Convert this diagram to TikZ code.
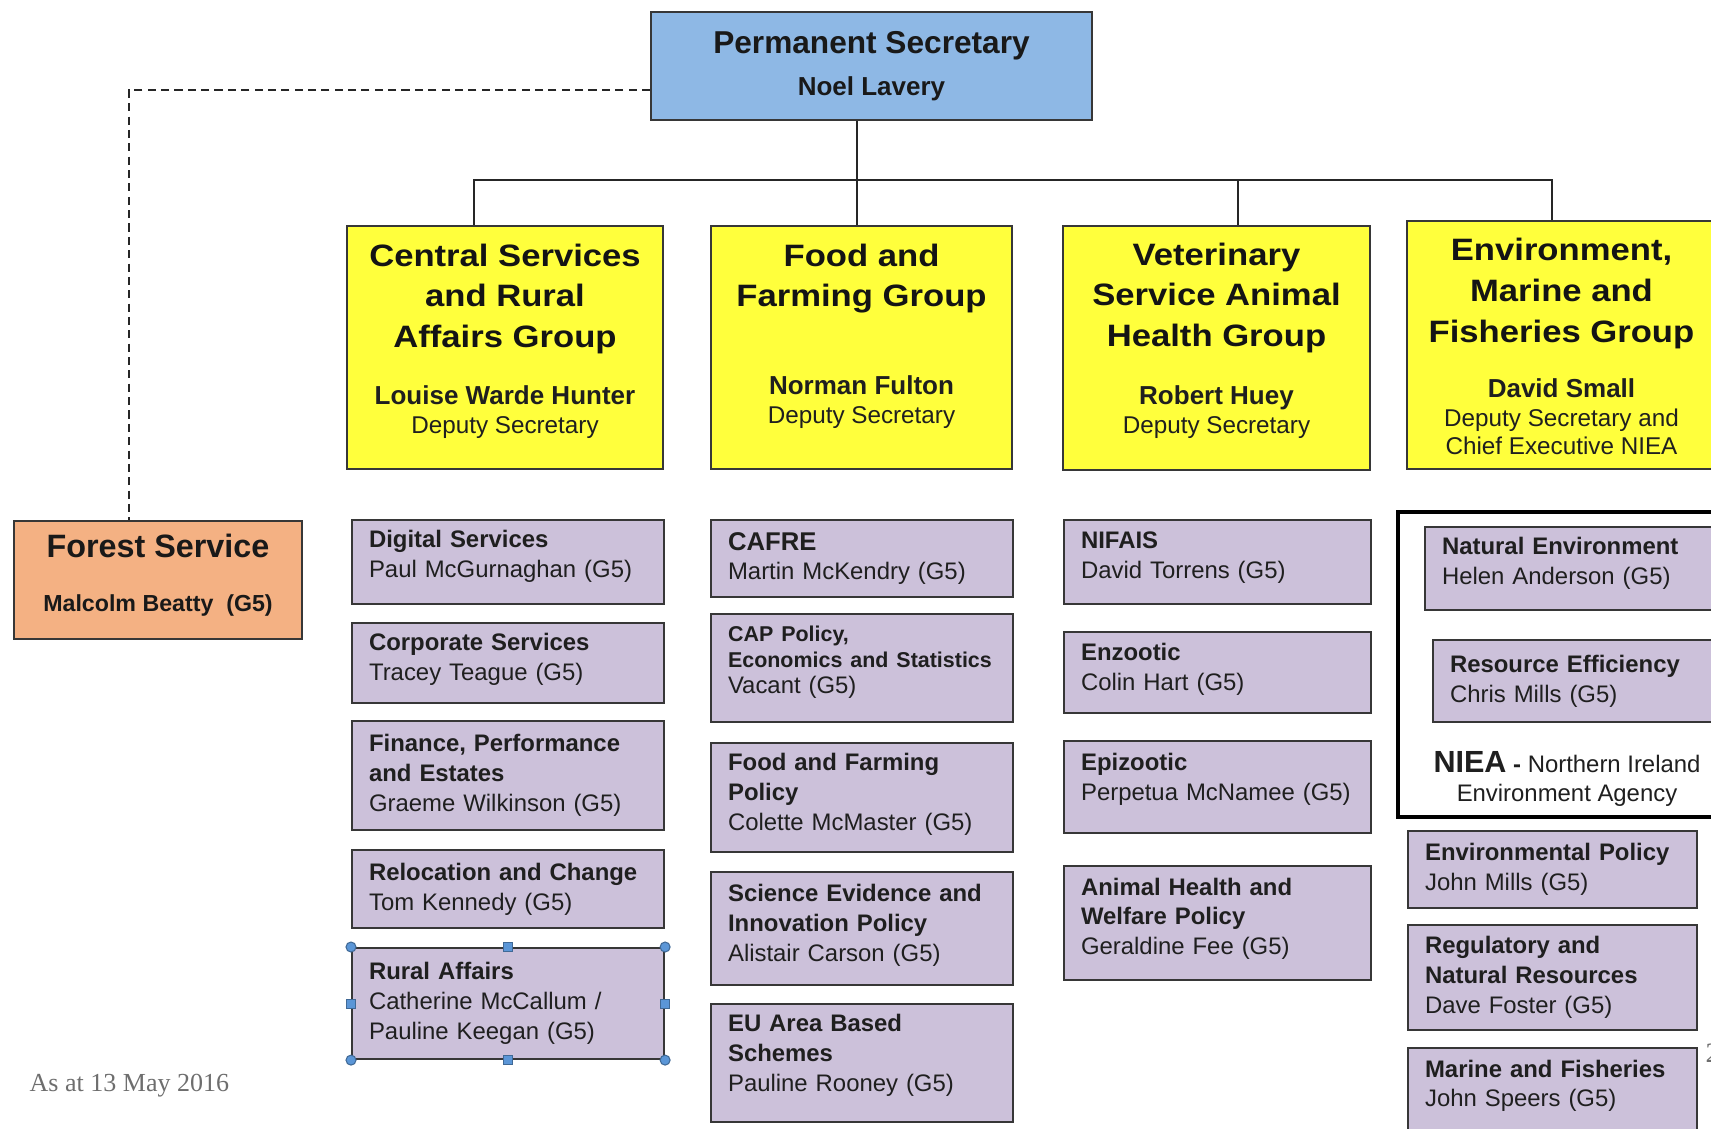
\documentclass[tikz,border=0pt]{standalone}
\usepackage{fontspec}
\setmainfont{Liberation Sans}
\newfontfamily\titlefont{Liberation Sans}[FakeStretch = 1.12]
\newfontfamily\notefont{Liberation Serif}
\usepackage{tikz}
\usetikzlibrary{positioning}
\definecolor{permblue}{RGB}{142, 184, 229}
\definecolor{groupyellow}{RGB}{255, 255, 60}
\definecolor{unitlilac}{RGB}{204, 193, 218}
\definecolor{forestorange}{RGB}{244, 177, 131}
\definecolor{boxline}{RGB}{55, 55, 55}
\definecolor{handleblue}{RGB}{91, 150, 215}
\definecolor{notegray}{RGB}{110, 110, 110}
\tikzset{chief/.style = {draw = boxline, fill = permblue, line width = 0.6pt, align = center, inner sep = 0, minimum width = 4.41cm, minimum height = 1.08cm, text = black!90, font = \fontsize{9.0}{11.9}\selectfont\bfseries}}
\tikzset{agency/.style = {draw = boxline, fill = forestorange, line width = 0.6pt, inner sep = 0, minimum width = 2.88cm, minimum height = 1.18cm}}
\tikzset{agencytext/.style = {align = center, inner sep = 0, text = black!90, font = \fontsize{9.2}{15.5}\selectfont\bfseries}}
\tikzset{groupbox/.style = {draw = boxline, fill = groupyellow, line width = 0.6pt, inner sep = 0, minimum height = 2.43cm}}
\tikzset{grouptitle/.style = {align = center, inner sep = 0, text = black!92, font = \fontsize{8.8}{11.6}\titlefont\bfseries}}
\tikzset{groupname/.style = {align = center, inner sep = 0, text = black!88, font = \fontsize{6.9}{8.3}\selectfont}}
\tikzset{unitbox/.style = {draw = boxline, fill = unitlilac, line width = 0.6pt, anchor = north west, align = left, inner xsep = 1.7mm, inner ysep = 0, text = black!88, font = \fontsize{6.8}{8.5}\selectfont}}
\tikzset{colA/.style = {unitbox, text width = 2.78cm}}
\tikzset{colB/.style = {unitbox, text width = 2.68cm}}
\tikzset{colC/.style = {unitbox, text width = 2.73cm}}
\tikzset{colD/.style = {unitbox, text width = 2.55cm}}
\tikzset{lift/.style = {execute at end node = {\\[#1]\mbox{}}}}
\tikzset{framebox/.style = {draw = black, line width = 1.2pt, anchor = north west, inner sep = 0}}
\tikzset{link/.style = {draw = black!85, line width = 0.6pt}}
\tikzset{handle/.style = {fill = handleblue, draw = handleblue!70!black, line width = 0.3pt}}

\begin{document}
\begin{tikzpicture}
    \fill[white] (0, 0) rectangle (17.11, -11.28);
    \useasboundingbox (0, 0) rectangle (17.11, -11.28);
    \node[chief] (permsec) at (8.715, -0.66) {Permanent Secretary\\{\fontsize{7.4}{11.9}\selectfont Noel Lavery}};
    \node[agency] (forest) at (1.58, -5.80) {};
    \node[agencytext] (forestText) at ([yshift = 0.5mm]forest.center) {Forest Service\\{\fontsize{6.6}{15.5}\selectfont Malcolm Beatty\ \ (G5)}};
    \node[groupbox, minimum width = 3.16cm] (csr) at (5.05, -3.475) {};
    \node[groupbox, minimum width = 3.01cm] (ffg) at (8.615, -3.475) {};
    \node[groupbox, minimum width = 3.07cm, minimum height = 2.44cm] (vet) at (12.165, -3.48) {};
    \node[groupbox, minimum width = 3.09cm, minimum height = 2.48cm] (emf) at (15.615, -3.45) {};
    \node[grouptitle, below = 1.8mm of csr.north] (csrTitle) {Central Services\\and Rural\\Affairs Group};
    \node[grouptitle, below = 1.8mm of ffg.north] (ffgTitle) {Food and\\Farming Group};
    \node[grouptitle, below = 1.7mm of vet.north] (vetTitle) {Veterinary\\Service Animal\\Health Group};
    \node[grouptitle, below = 1.75mm of emf.north] (emfTitle) {Environment,\\Marine and\\Fisheries Group};
    \node[groupname, above = 3.1mm of csr.south] (csrHead) {\textbf{\fontsize{7.4}{8.3}\selectfont Louise Warde Hunter}\\Deputy Secretary};
    \node[groupname, above = 4.1mm of ffg.south] (ffgHead) {\textbf{\fontsize{7.4}{8.3}\selectfont Norman Fulton}\\Deputy Secretary};
    \node[groupname, above = 3.2mm of vet.south] (vetHead) {\textbf{\fontsize{7.4}{8.3}\selectfont Robert Huey}\\Deputy Secretary};
    \node[groupname, above = 1.5mm of emf.south, font = \fontsize{6.9}{8.0}\selectfont] (emfHead) {\textbf{\fontsize{7.4}{8.0}\selectfont David Small}\\Deputy Secretary and\\Chief Executive NIEA};
    \coordinate (bus) at (0, -1.80);
    \draw[link] ([xshift = -0.45mm]ffg.north) -- ([xshift = -0.45mm]ffg.north |- permsec.south);
    \draw[link] ([xshift = -3.1mm]csr.north) |- ([xshift = -0.95mm]emf.north |- bus) -- ([xshift = -0.95mm]emf.north);
    \draw[link] ([xshift = 2.15mm]vet.north) -- ([xshift = 2.15mm]vet.north |- bus);
    \draw[link, line width = 0.5pt, dash pattern = on 2.3pt off 1.5pt] ([yshift = -2.4mm]permsec.west) -| ([xshift = -2.9mm]forest.north);
    \node[colA, lift = -3.95pt, minimum height = 0.84cm] (digital) at (3.51, -5.19) {\textbf{Digital Services}\\Paul McGurnaghan (G5)};
    \node[colA, lift = -5.2pt, minimum height = 0.80cm] (corporate) at (3.51, -6.22) {\textbf{Corporate Services}\\Tracey Teague (G5)};
    \node[colA, minimum height = 1.09cm] (finance) at (3.51, -7.20) {\textbf{Finance, Performance}\\\textbf{and Estates}\\Graeme Wilkinson (G5)};
    \node[colA, minimum height = 0.78cm] (reloc) at (3.51, -8.49) {\textbf{Relocation and Change}\\Tom Kennedy (G5)};
    \node[colA, minimum height = 1.11cm] (rural) at (3.51, -9.47) {\textbf{Rural Affairs}\\Catherine McCallum /\\Pauline Keegan (G5)};
    \node[colB, minimum height = 0.77cm] (cafre) at (7.10, -5.19) {\textbf{\fontsize{7.3}{8.5}\selectfont CAFRE}\\Martin McKendry (G5)};
    \node[colB, lift = -2.85pt, minimum height = 1.08cm, font = \fontsize{6.8}{7.4}\selectfont] (cap) at (7.10, -6.13) {\textbf{\fontsize{6.1}{7.4}\selectfont CAP Policy,}\\\textbf{\fontsize{6.1}{7.4}\selectfont Economics and Statistics}\\Vacant (G5)};
    \node[colB, lift = -5.2pt, minimum height = 1.09cm] (ffpolicy) at (7.10, -7.42) {\textbf{Food and Farming}\\\textbf{Policy}\\Colette McMaster (G5)};
    \node[colB, lift = -5.2pt, minimum height = 1.13cm] (science) at (7.10, -8.71) {\textbf{Science Evidence and}\\\textbf{Innovation Policy}\\Alistair Carson (G5)};
    \node[colB, lift = -2.7pt, minimum height = 1.18cm] (euschemes) at (7.10, -10.03) {\textbf{EU Area Based}\\\textbf{Schemes}\\Pauline Rooney (G5)};
    \node[colC, lift = -4.6pt, minimum height = 0.84cm] (nifais) at (10.63, -5.19) {\textbf{NIFAIS}\\David Torrens (G5)};
    \node[colC, lift = -5.2pt, minimum height = 0.81cm] (enzootic) at (10.63, -6.31) {\textbf{Enzootic}\\Colin Hart (G5)};
    \node[colC, lift = -2.7pt, minimum height = 0.92cm] (epizootic) at (10.63, -7.40) {\textbf{Epizootic}\\Perpetua McNamee (G5)};
    \node[colC, lift = -4.6pt, minimum height = 1.14cm] (welfare) at (10.63, -8.65) {\textbf{Animal Health and}\\\textbf{Welfare Policy}\\Geraldine Fee (G5)};
    \node[framebox, minimum width = 3.30cm, minimum height = 3.05cm] (nieaframe) at (13.96, -5.10) {};
    \node[unitbox, lift = -3.95pt, text width = 2.62cm, minimum height = 0.83cm] (natenv) at (14.24, -5.26) {\textbf{Natural Environment}\\Helen Anderson (G5)};
    \node[unitbox, text width = 2.54cm, minimum height = 0.82cm] (resource) at (14.32, -6.39) {\textbf{Resource Efficiency}\\Chris Mills (G5)};
    \node[align = center, inner sep = 0, anchor = north, text = black!88, font = \fontsize{6.8}{8.2}\selectfont] (nieanote) at (15.67, -7.51) {{\fontsize{8.7}{8.2}\selectfont\bfseries NIEA} \textbf{-} Northern Ireland\\Environment Agency};
    \node[colD, minimum height = 0.77cm] (envpolicy) at (14.07, -8.30) {\textbf{Environmental Policy}\\John Mills (G5)};
    \node[colD, minimum height = 1.05cm] (regulatory) at (14.07, -9.24) {\textbf{Regulatory and}\\\textbf{Natural Resources}\\Dave Foster (G5)};
    \node[colD, lift = -2.1pt, minimum height = 0.93cm] (marine) at (14.07, -10.47) {\textbf{Marine and Fisheries}\\John Speers (G5)};
    \foreach \corner in {north west, north east, south west, south east}
        \draw[handle] (rural.\corner) circle [radius = 0.5mm];
    \foreach \side in {north, south, east, west}
        \draw[handle] ([shift = {(-0.45mm, -0.45mm)}]rural.\side) rectangle ++(0.9mm, 0.9mm);
    \node[anchor = base west, inner sep = 0, text = notegray, font = \notefont\fontsize{7.4}{8.9}\selectfont] (asat) at (0.29, -10.91) {As at 13 May 2016};
    \node[anchor = base west, inner sep = 0, text = notegray, font = \notefont\fontsize{8}{9.6}\selectfont] (pagenum) at (17.05, -10.62) {2};
  \end{tikzpicture}
\end{document}
